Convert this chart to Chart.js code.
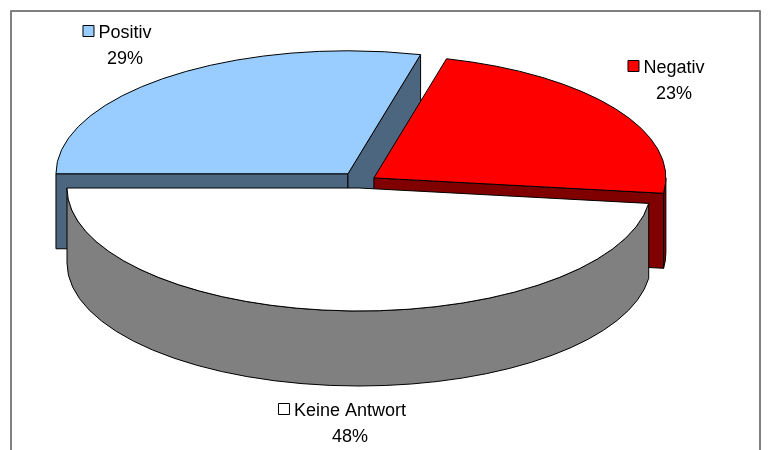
<!DOCTYPE html>
<html lang="de">

<head>
    <meta charset="UTF-8">
    <title>Umfrage</title>
    <script src="https://cdn.jsdelivr.net/npm/chart.js"></script>
    <style>
        body {
            margin: 0;
            padding: 0;
            background: #ffffff;
        }

        canvas {
            display: block;
        }
    </style>
</head>

<body>
    <canvas id="umfrageChart" width="773" height="450"></canvas>
    <script>
        // Antworten in Prozent
        const kategorien = ['Positiv', 'Negativ', 'Keine Antwort'];
        const anteile = [29, 23, 48];

        const deckFarben = ['#99CCFF', '#FF0000', '#FFFFFF'];
        const seitenFarben = ['#4D6680', '#800000', '#808080'];

        // Ellipse der 3D-Torte
        const RX = 292, RY = 123, TIEFE = 75;

        // Beschriftung: Mitte des Namens (x) und Grundlinie (y)
        const beschriftung = [
            { x: 125, y: 38 },
            { x: 674, y: 73 },
            { x: 350, y: 416 }
        ];

        function punkt(s, a) {
            return [s.cx + RX * Math.cos(a), s.cy + RY * Math.sin(a)];
        }

        function seitenFlaeche(ctx, s, a, farbe) {
            const [px, py] = punkt(s, a);
            ctx.beginPath();
            ctx.moveTo(s.cx, s.cy);
            ctx.lineTo(px, py);
            ctx.lineTo(px, py + TIEFE);
            ctx.lineTo(s.cx, s.cy + TIEFE);
            ctx.closePath();
            ctx.fillStyle = farbe;
            ctx.fill();
            ctx.stroke();
        }

        function mantel(ctx, s, farbe) {
            // nur die vordere Hälfte (sin > 0) ist sichtbar
            const k0 = Math.floor(s.a1 / (2 * Math.PI)) - 1;
            for (let k = k0; k <= k0 + 3; k++) {
                const lo = Math.max(s.a1, 2 * Math.PI * k);
                const hi = Math.min(s.a2, 2 * Math.PI * k + Math.PI);
                if (hi <= lo) continue;
                ctx.beginPath();
                ctx.ellipse(s.cx, s.cy, RX, RY, 0, lo, hi);
                ctx.ellipse(s.cx, s.cy + TIEFE, RX, RY, 0, hi, lo, true);
                ctx.closePath();
                ctx.fillStyle = farbe;
                ctx.fill();
                ctx.stroke();
            }
        }

        const torte3d = {
            id: 'torte3d',
            beforeDatasetsDraw() {
                return false; // flache Torte nicht zeichnen
            },
            afterDraw(chart) {
                const ctx = chart.ctx;
                const meta = chart.getDatasetMeta(0);
                const ds = chart.data.datasets[0];

                const stuecke = meta.data.map((arc, i) => {
                    const a1 = arc.startAngle, a2 = arc.endAngle;
                    const mitte = (a1 + a2) / 2;
                    const off = arc.options.offset || 0;
                    return {
                        i, a1, a2, mitte,
                        cx: arc.x + off * Math.cos(mitte),
                        cy: arc.y + off * Math.sin(mitte)
                    };
                });
                // von hinten nach vorne
                stuecke.sort((p, q) => Math.sin(p.mitte) - Math.sin(q.mitte));

                ctx.save();
                ctx.lineWidth = 1;
                ctx.lineJoin = 'round';
                ctx.strokeStyle = '#000000';

                stuecke.forEach(s => {
                    const seite = seitenFarben[s.i];
                    if (Math.cos(s.a1) < 0) seitenFlaeche(ctx, s, s.a1, seite);
                    if (Math.cos(s.a2) > 0) seitenFlaeche(ctx, s, s.a2, seite);
                    mantel(ctx, s, seite);

                    ctx.beginPath();
                    ctx.moveTo(s.cx, s.cy);
                    ctx.ellipse(s.cx, s.cy, RX, RY, 0, s.a1, s.a2);
                    ctx.closePath();
                    ctx.fillStyle = ds.backgroundColor[s.i];
                    ctx.fill();
                    ctx.stroke();
                });

                // Beschriftungen mit Legendensymbol
                ctx.font = '18px "Liberation Sans", Arial, sans-serif';
                ctx.textBaseline = 'alphabetic';
                ctx.textAlign = 'center';
                kategorien.forEach((name, i) => {
                    const b = beschriftung[i];
                    const w = ctx.measureText(name).width;
                    ctx.fillStyle = '#000000';
                    ctx.fillText(name, b.x, b.y);
                    ctx.fillText(anteile[i] + '%', b.x, b.y + 26);
                    const bx = b.x - w / 2 - 16;
                    ctx.fillStyle = ds.backgroundColor[i];
                    ctx.fillRect(bx + 0.5, b.y - 12.5, 11, 11);
                    ctx.strokeRect(bx + 0.5, b.y - 12.5, 11, 11);
                });

                // Rahmen
                ctx.strokeStyle = '#7f7f7f';
                ctx.lineWidth = 2;
                ctx.beginPath();
                ctx.moveTo(11, 460);
                ctx.lineTo(11, 11);
                ctx.lineTo(760, 11);
                ctx.lineTo(760, 460);
                ctx.stroke();
                ctx.restore();
            }
        };

        new Chart(document.getElementById('umfrageChart'), {
            type: 'pie',
            data: {
                labels: kategorien,
                datasets: [{
                    data: anteile,
                    backgroundColor: deckFarben,
                    offset: [18, 18, 0]
                }]
            },
            options: {
                responsive: false,
                animation: false,
                rotation: 270,
                layout: {
                    padding: { left: 0, right: 55, top: 0, bottom: 74 }
                },
                plugins: {
                    legend: { display: false },
                    tooltip: { enabled: false }
                }
            },
            plugins: [torte3d]
        });
    </script>
</body>

</html>
